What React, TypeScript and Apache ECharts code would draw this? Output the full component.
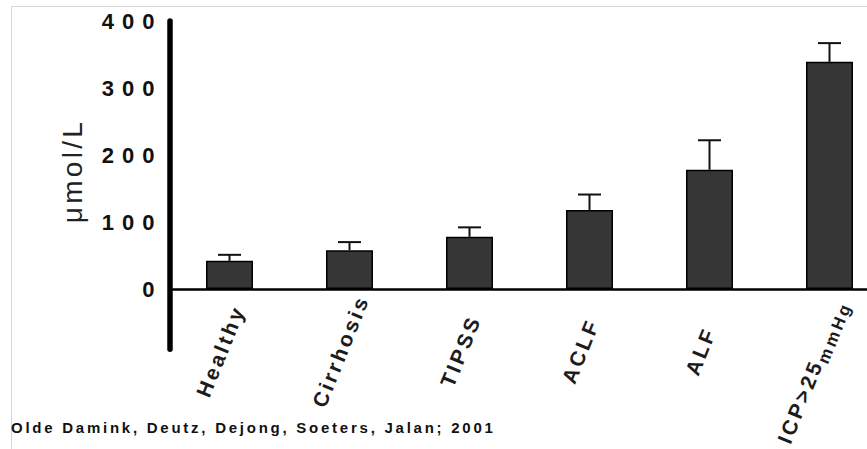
import React, { useEffect, useRef } from 'react';
import * as echarts from 'echarts';

// Blood ammonia by patient group (mean with upper SEM whisker)
const categories = ['Healthy', 'Cirrhosis', 'TIPSS', 'ACLF', 'ALF', 'ICP>25mmHg'];
const ammoniaMean = [42, 58, 78, 118, 178, 339];
const ammoniaSem = [9, 12, 14, 23, 44, 28];
const yTickValues = [0, 100, 200, 300, 400];
const yTitle = 'μmol/L';
const citation = 'Olde Damink, Deutz, Dejong, Soeters, Jalan; 2001';

const FONT = '"Liberation Sans", Arial, Helvetica, sans-serif';

// Tracked (letter-spaced) lettering used throughout the figure
function spacingFor(s: string): number {
  if (yTickValues.map(String).includes(s)) return 8;
  if (categories.includes(s) || s === 'ICP>25' || s === 'mmHg') return 3;
  if (s === yTitle) return 3.3;
  if (s === citation) return 2.75;
  return 0;
}

function applyLetterSpacing(root: HTMLElement) {
  root.querySelectorAll('text').forEach((t) => {
    const v = spacingFor((t.textContent || '').trim());
    if (!v) return;
    const want = v + 'px';
    const el = t as SVGTextElement;
    if (el.style.letterSpacing !== want) el.style.letterSpacing = want;
  });
}

export default function App() {
  const ref = useRef<HTMLDivElement>(null);

  useEffect(() => {
    const el = ref.current!;
    const chart = echarts.init(el, null, { renderer: 'svg' });

    const option = {
      animation: false,
      backgroundColor: '#ffffff',
      grid: {
        left: 169.5,
        top: 21,
        width: 720,
        height: 328.3,
        containLabel: false,
        outerBoundsMode: 'none',
      },
      xAxis: {
        type: 'category',
        data: categories,
        boundaryGap: true,
        axisLine: { show: true, onZero: true, lineStyle: { color: '#000', width: 2.5 } },
        axisTick: { show: false },
        splitLine: { show: false },
        axisLabel: {
          interval: 0,
          rotate: 68,
          align: 'center',
          verticalAlign: 'middle',
          // labels are laid out from the grid's bottom edge, not from the zero line
          margin: 0.7,
          padding: [0, 8.6, 15.9, 0],
          color: '#1c1c1c',
          fontFamily: FONT,
          fontWeight: 'bold',
          fontSize: 21,
          lineHeight: 30,
          formatter: (v: string) =>
            v === 'ICP>25mmHg' ? '{a|ICP>25}{b|mmHg}{p| }' : v,
          rich: {
            a: {
              fontFamily: FONT,
              fontWeight: 'bold',
              fontSize: 21,
              lineHeight: 30,
              color: '#1c1c1c',
              padding: [0, 9, 0, 9],
            },
            b: {
              fontFamily: FONT,
              fontWeight: 'bold',
              fontSize: 17,
              lineHeight: 17,
              verticalAlign: 'bottom',
              color: '#1c1c1c',
              padding: [0, 6, 0, 6],
            },
            p: { width: 44, fontSize: 17, lineHeight: 17 },
          },
        },
      },
      yAxis: {
        type: 'value',
        min: -90,
        max: 400,
        axisLine: { show: true, lineStyle: { color: '#000', width: 5.5, cap: 'round' } },
        axisTick: { show: false },
        splitLine: { show: false },
        axisLabel: {
          customValues: yTickValues,
          formatter: (v: number) => (v < 0 ? '' : String(v)),
          margin: 7,
          padding: [8, 0, 0, 0],
          color: '#111',
          fontFamily: FONT,
          fontWeight: 'bold',
          fontSize: 22,
        },
      },
      graphic: [
        {
          type: 'rect',
          silent: true,
          z: -10,
          shape: { x: 11.5, y: 6.5, width: 1000, height: 1000 },
          style: { fill: 'none', stroke: '#d6d6d6', lineWidth: 1 },
        },
        {
          type: 'text',
          x: 72,
          y: 171,
          rotation: Math.PI / 2,
          style: {
            text: yTitle,
            font: `28px ${FONT}`,
            fill: '#222',
            align: 'center',
            verticalAlign: 'middle',
          },
        },
        {
          type: 'text',
          x: 11,
          y: 427.5,
          style: {
            text: citation,
            font: `bold 15px ${FONT}`,
            fill: '#111',
            align: 'left',
            verticalAlign: 'middle',
          },
        },
      ],
      series: [
        {
          type: 'bar',
          data: ammoniaMean,
          barWidth: 47,
          itemStyle: { color: '#363636', borderColor: '#000', borderWidth: 1.5 },
          z: 2,
        },
        {
          type: 'custom',
          z: 3,
          data: ammoniaMean.map((m, i) => [i, m, m + ammoniaSem[i]]),
          encode: { x: 0, y: [1, 2] },
          renderItem: (_params: any, api: any) => {
            const i = api.value(0);
            const base = api.coord([i, api.value(1)]);
            const top = api.coord([i, api.value(2)]);
            const half = 11.5;
            const stroke = { stroke: '#111', lineWidth: 2 };
            return {
              type: 'group',
              children: [
                { type: 'line', shape: { x1: base[0], y1: base[1], x2: top[0], y2: top[1] }, style: stroke },
                { type: 'line', shape: { x1: top[0] - half, y1: top[1], x2: top[0] + half, y2: top[1] }, style: stroke },
              ],
            };
          },
        },
      ],
    };

    chart.setOption(option as any);
    const space = () => applyLetterSpacing(el);
    space();
    chart.on('finished', space);
    // keep the tracking in place if the renderer rewrites any text node
    const observer = new MutationObserver(space);
    observer.observe(el, { subtree: true, childList: true, attributes: true, characterData: true });
    const raf = requestAnimationFrame(space);
    const timers = [50, 200, 600].map((ms) => window.setTimeout(space, ms));
    return () => {
      observer.disconnect();
      cancelAnimationFrame(raf);
      timers.forEach((t) => clearTimeout(t));
      chart.dispose();
    };
  }, []);

  return (
    <div
      ref={ref}
      style={{ position: 'fixed', left: 0, top: 0, width: 867, height: 449, background: '#fff' }}
    />
  );
}
